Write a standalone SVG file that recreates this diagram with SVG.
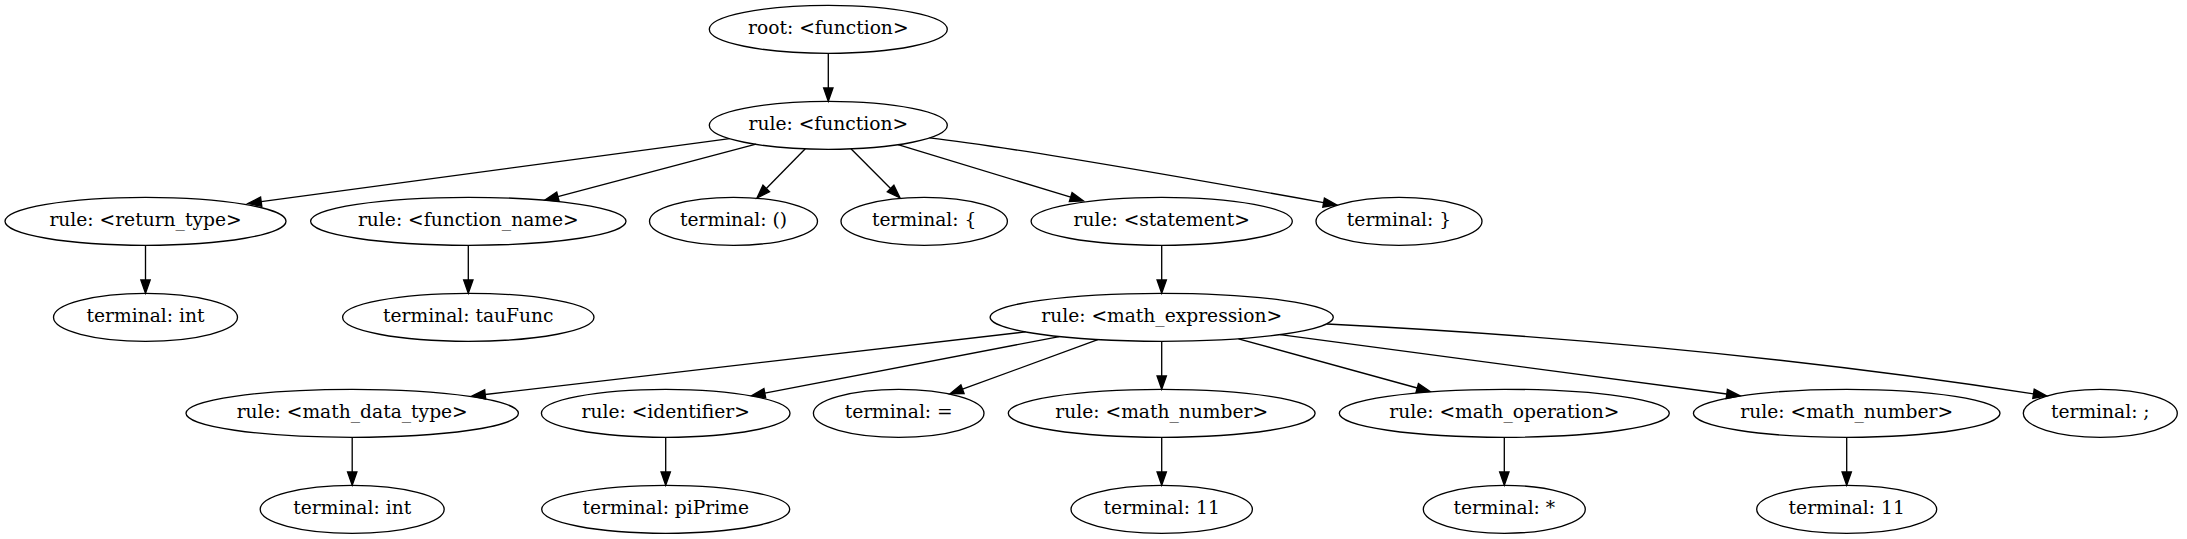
<svg xmlns="http://www.w3.org/2000/svg" width="2187" height="539" viewBox="0 0 2187 539">
<style>
.node ellipse{fill:none;stroke:#000;stroke-width:1.33}
.node text{font-family:"DejaVu Serif","Liberation Serif",serif;font-size:18.67px;text-anchor:middle;fill:#000}
.edges path{fill:none;stroke:#000;stroke-width:1.33;marker-end:url(#arr)}
</style>
<defs>
<marker id="arr" markerUnits="userSpaceOnUse" markerWidth="13.33" markerHeight="9.33" viewBox="0 0 13.33 9.33" refX="0" refY="4.665" orient="auto" overflow="visible">
<path d="M0,0 L13.33,4.665 L0,9.33 z" fill="#000" stroke="#000" stroke-width="1.33"/>
</marker>
</defs>
<rect x="0" y="0" width="2187" height="539" fill="#fff"/>
<g class="edges" id="edges">
<path d="M828.3,53.3 L828.3,88"/>
<path d="M729.6,138.6 L261.2,201.7"/>
<path d="M756,144.2 L557.9,196.6"/>
<path d="M805.3,148.7 L766.3,188.5"/>
<path d="M851,148.8 L890.6,188.5"/>
<path d="M898,144.7 L1070.7,197.1"/>
<path d="M929.5,137.8 Q1023,148.5 1323.6,202.6"/>
<path d="M145.5,245.3 L145.5,280"/>
<path d="M468.3,245.3 L468.3,280"/>
<path d="M1161.7,245.3 L1161.7,280"/>
<path d="M1025.6,331.9 L485.2,394.5"/>
<path d="M1059.3,336.6 L764.8,393.2"/>
<path d="M1097.8,339.6 L962.5,389.2"/>
<path d="M1161.7,341.3 L1161.7,376"/>
<path d="M1238.5,338.8 L1417.2,388"/>
<path d="M1280.1,334.7 L1726.8,394"/>
<path d="M1327,324 Q1702,342.8 2033.5,393.8"/>
<path d="M352.2,437.3 L352.2,472"/>
<path d="M665.7,437.3 L665.7,472"/>
<path d="M1161.7,437.3 L1161.7,472"/>
<path d="M1504.3,437.3 L1504.3,472"/>
<path d="M1846.7,437.3 L1846.7,472"/>
</g>
<g class="node" id="n_root"><ellipse cx="828.3" cy="29.3" rx="119" ry="24"/><text x="828.3" y="34.3">root: &lt;function&gt;</text></g>
<g class="node" id="n_function"><ellipse cx="828.3" cy="125.3" rx="119" ry="24"/><text x="828.3" y="130.3">rule: &lt;function&gt;</text></g>
<g class="node" id="n_return_type"><ellipse cx="145.5" cy="221.3" rx="140.5" ry="24"/><text x="145.5" y="226.3">rule: &lt;return_type&gt;</text></g>
<g class="node" id="n_function_name"><ellipse cx="468.3" cy="221.3" rx="157.7" ry="24"/><text x="468.3" y="226.3">rule: &lt;function_name&gt;</text></g>
<g class="node" id="n_t_paren"><ellipse cx="733.5" cy="221.3" rx="84" ry="24"/><text x="733.5" y="226.3">terminal: ()</text></g>
<g class="node" id="n_t_lbrace"><ellipse cx="924.2" cy="221.3" rx="83.2" ry="24"/><text x="924.2" y="226.3">terminal: {</text></g>
<g class="node" id="n_statement"><ellipse cx="1161.7" cy="221.3" rx="130.6" ry="24"/><text x="1161.7" y="226.3">rule: &lt;statement&gt;</text></g>
<g class="node" id="n_t_rbrace"><ellipse cx="1399" cy="221.3" rx="83" ry="24"/><text x="1399" y="226.3">terminal: }</text></g>
<g class="node" id="n_t_int1"><ellipse cx="145.5" cy="317.3" rx="92" ry="24"/><text x="145.5" y="322.3">terminal: int</text></g>
<g class="node" id="n_t_taufunc"><ellipse cx="468.3" cy="317.3" rx="125.7" ry="24"/><text x="468.3" y="322.3">terminal: tauFunc</text></g>
<g class="node" id="n_math_expression"><ellipse cx="1161.7" cy="317.3" rx="171.6" ry="24"/><text x="1161.7" y="322.3">rule: &lt;math_expression&gt;</text></g>
<g class="node" id="n_math_data_type"><ellipse cx="352.2" cy="413.3" rx="166.2" ry="24"/><text x="352.2" y="418.3">rule: &lt;math_data_type&gt;</text></g>
<g class="node" id="n_identifier"><ellipse cx="665.7" cy="413.3" rx="124.3" ry="24"/><text x="665.7" y="418.3">rule: &lt;identifier&gt;</text></g>
<g class="node" id="n_t_eq"><ellipse cx="898.7" cy="413.3" rx="85.3" ry="24"/><text x="898.7" y="418.3">terminal: =</text></g>
<g class="node" id="n_math_number1"><ellipse cx="1161.7" cy="413.3" rx="153.4" ry="24"/><text x="1161.7" y="418.3">rule: &lt;math_number&gt;</text></g>
<g class="node" id="n_math_operation"><ellipse cx="1504.3" cy="413.3" rx="165" ry="24"/><text x="1504.3" y="418.3">rule: &lt;math_operation&gt;</text></g>
<g class="node" id="n_math_number2"><ellipse cx="1846.7" cy="413.3" rx="153.3" ry="24"/><text x="1846.7" y="418.3">rule: &lt;math_number&gt;</text></g>
<g class="node" id="n_t_semi"><ellipse cx="2100.3" cy="413.3" rx="77" ry="24"/><text x="2100.3" y="418.3">terminal: ;</text></g>
<g class="node" id="n_t_int2"><ellipse cx="352.2" cy="509.3" rx="92" ry="24"/><text x="352.2" y="514.3">terminal: int</text></g>
<g class="node" id="n_t_piprime"><ellipse cx="665.7" cy="509.3" rx="124" ry="24"/><text x="665.7" y="514.3">terminal: piPrime</text></g>
<g class="node" id="n_t_11a"><ellipse cx="1161.7" cy="509.3" rx="90.7" ry="24"/><text x="1161.7" y="514.3">terminal: 11</text></g>
<g class="node" id="n_t_star"><ellipse cx="1504.3" cy="509.3" rx="81" ry="24"/><text x="1504.3" y="514.3">terminal: *</text></g>
<g class="node" id="n_t_11b"><ellipse cx="1846.7" cy="509.3" rx="90" ry="24"/><text x="1846.7" y="514.3">terminal: 11</text></g>
</svg>
